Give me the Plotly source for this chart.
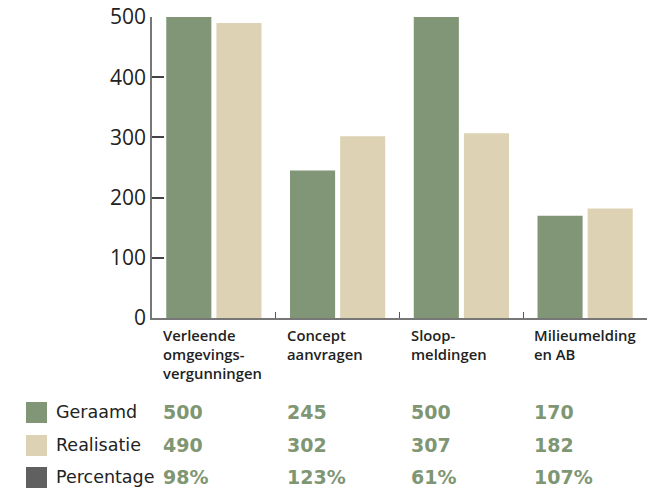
import plotly.graph_objects as go

categories = ["Verleende<br>omgevings-<br>vergunningen", "Concept<br>aanvragen",
              "Sloop-<br>meldingen", "Milieumelding<br>en AB"]
cat_keys = ["Verleende omgevingsvergunningen", "Concept aanvragen", "Sloopmeldingen", "Milieumelding en AB"]
geraamd = [500, 245, 500, 170]
realisatie = [490, 302, 307, 182]
percentage = ["98%", "123%", "61%", "107%"]
row_labels = ["Geraamd", "Realisatie", "Percentage"]
row_colors = ["#809676", "#ddd3b4", "#606060"]
y_ticks = [0, 100, 200, 300, 400, 500]

GREEN = "#809676"
BEIGE = "#ddd3b4"

fig = go.Figure()
fig.add_trace(go.Bar(x=cat_keys, y=geraamd, name="Geraamd", marker=dict(color=GREEN, line=dict(width=0)),
                     hoverinfo="skip"))
fig.add_trace(go.Bar(x=cat_keys, y=realisatie, name="Realisatie", marker=dict(color=BEIGE, line=dict(width=0)),
                     hoverinfo="skip"))

annotations = []
for i, lab in enumerate(categories):
    annotations.append(dict(x=i - 0.5, y=0, xref="x", yref="paper", text=lab, showarrow=False,
                            xanchor="left", yanchor="top", xshift=9, yshift=-5, align="left",
                            font=dict(family="Open Sans", size=14.8, color="#222222", weight=600)))

rows = [geraamd, realisatie, percentage]
row_y = [-94, -127, -159]
for r, (lab, vals, ys) in enumerate(zip(row_labels, rows, row_y)):
    annotations.append(dict(x=0, y=0, xref="paper", yref="paper", text=lab, showarrow=False,
                            xanchor="left", yanchor="middle", xshift=-98, yshift=ys,
                            font=dict(family="DejaVu Sans", size=17.5, color="#222222")))
    for i, v in enumerate(vals):
        annotations.append(dict(x=i - 0.5, y=0, xref="x", yref="paper", text=str(v), showarrow=False,
                                xanchor="left", yanchor="middle", xshift=9, yshift=ys,
                                font=dict(family="DejaVu Sans", size=19, color="#7f9673", weight="bold")))

shapes = []
for r, (c, ys) in enumerate(zip(row_colors, row_y)):
    shapes.append(dict(type="rect", xref="paper", yref="paper", xsizemode="pixel", ysizemode="pixel",
                       xanchor=0, yanchor=0, x0=-126, x1=-105, y0=ys + 10, y1=ys - 11,
                       fillcolor=c, line=dict(width=0)))

fig.update_layout(
    width=656, height=489,
    margin=dict(l=152, r=9, t=17, b=171, pad=0, autoexpand=False),
    paper_bgcolor="white", plot_bgcolor="white",
    barmode="group", bargap=0.19, bargroupgap=0.1,
    showlegend=False,
    annotations=annotations,
    shapes=shapes,
    xaxis=dict(range=[-0.5, 3.5], showline=True, linecolor="#777777", linewidth=1.5,
               ticks="inside", tickson="boundaries", ticklen=6, tickcolor="#555555", tickwidth=1,
               showticklabels=False, showgrid=False, zeroline=False, automargin=False),
    yaxis=dict(range=[0, 500], tickvals=y_ticks, showline=True, linecolor="#777777", linewidth=1.5,
               ticks="inside", ticklen=12, tickcolor="#444444", tickwidth=1.5,
               showgrid=False, zeroline=False, automargin=False, ticklabeloverflow="allow",
               tickfont=dict(family="Open Sans", size=21, color="#222222")),
)

# remove the default 8px page margin so the figure sits at the window's top-left corner
fig.write_html("out.html", config={"displayModeBar": False},
               post_script="document.body.style.margin='0';")
